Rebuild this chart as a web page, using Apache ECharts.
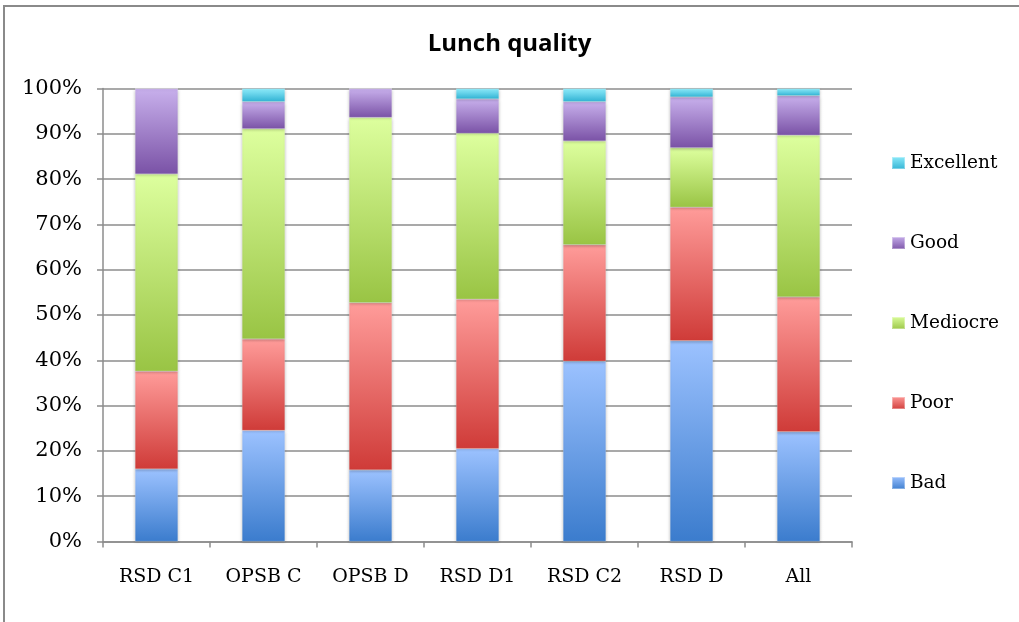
<!DOCTYPE html>
<html>
<head>
<meta charset="utf-8">
<script src="https://cdn.jsdelivr.net/npm/echarts@6/dist/echarts.min.js"></script>
<style>
html,body{margin:0;padding:0;background:#fff;}
#chart{width:1019px;height:622px;}
</style>
</head>
<body>
<div id="chart"></div>
<script>
const categories = ['RSD C1', 'OPSB C', 'OPSB D', 'RSD D1', 'RSD C2', 'RSD D', 'All'];
const bad       = [16.0, 24.5, 15.8, 20.5, 39.8, 44.3, 24.2];
const poor      = [21.6, 20.2, 36.9, 33.0, 25.7, 29.5, 29.8];
const mediocre  = [43.5, 46.4, 40.9, 36.6, 22.9, 13.1, 35.7];
const good      = [18.9, 6.0, 6.4, 7.6, 8.7, 11.2, 8.7];
const excellent = [0, 2.9, 0, 2.3, 2.9, 1.9, 1.6];
const yTicks = ['0%', '10%', '20%', '30%', '40%', '50%', '60%', '70%', '80%', '90%', '100%'];
const legendOrder = ['Excellent', 'Good', 'Mediocre', 'Poor', 'Bad'];

function grad(top, bottom) {
  return new echarts.graphic.LinearGradient(0, 0, 0, 1, [
    { offset: 0, color: top },
    { offset: 1, color: bottom }
  ]);
}
const seriesDefs = [
  { name: 'Bad', data: bad, top: '#9cc2ff', bottom: '#3b7ccd' },
  { name: 'Poor', data: poor, top: '#ff9c9a', bottom: '#cf3b38' },
  { name: 'Mediocre', data: mediocre, top: '#ddff9e', bottom: '#99c444' },
  { name: 'Good', data: good, top: '#c8b0ec', bottom: '#7a52a6' },
  { name: 'Excellent', data: excellent, top: '#90ecfb', bottom: '#30b2d3' }
];

const serif = 'DejaVu Serif';
const chart = echarts.init(document.getElementById('chart'), null, { renderer: 'canvas' });
const option = {
  backgroundColor: '#fff',
  animation: false,
  title: {
    text: 'Lunch quality',
    left: 'center',
    top: 27,
    textStyle: { fontFamily: 'Open Sans', fontWeight: 'bold', fontSize: 24, color: '#000' }
  },
  graphic: [{
    type: 'rect', silent: true, z: -1,
    shape: { x: 4, y: 6, width: 1100, height: 700 },
    style: { fill: 'none', stroke: '#8a8a8a', lineWidth: 2 }
  }],
  legend: {
    data: legendOrder,
    orient: 'vertical',
    left: 891,
    top: 152,
    padding: 0,
    itemWidth: 13,
    itemHeight: 12,
    itemGap: 58,
    icon: 'rect',
    textStyle: { fontFamily: serif, fontSize: 18.5, color: '#000', lineHeight: 22 }
  },
  grid: { left: 103, right: 167, top: 88.5, bottom: 80.5, containLabel: false },
  xAxis: {
    type: 'category',
    data: categories,
    axisLine: { lineStyle: { color: '#8c8c8c', width: 1.5 } },
    axisTick: { show: true, length: 6, alignWithLabel: false, lineStyle: { color: '#8c8c8c', width: 1.5 } },
    axisLabel: { fontFamily: serif, fontSize: 19, color: '#000', margin: 26 }
  },
  yAxis: {
    type: 'value',
    min: 0, max: 100, interval: 10,
    axisLine: { show: true, lineStyle: { color: '#8c8c8c', width: 1.5 } },
    axisTick: { show: true, length: 6, lineStyle: { color: '#8c8c8c', width: 1.5 } },
    splitLine: { show: true, lineStyle: { color: '#8c8c8c', width: 1.5 } },
    axisLabel: {
      fontFamily: serif, fontSize: 21, color: '#000', margin: 21,
      formatter: function (v) { return yTicks[Math.round(v / 10)]; }
    }
  },
  series: seriesDefs.map(function (s) {
    return {
      name: s.name,
      type: 'bar',
      stack: 'total',
      data: s.data,
      barWidth: 43,
      itemStyle: {
        color: grad(s.top, s.bottom),
        borderColor: 'rgba(255,255,255,0.35)',
        borderWidth: 0.5,
        shadowBlur: 3,
        shadowColor: 'rgba(0,0,0,0.25)',
        shadowOffsetY: 1
      }
    };
  })
};
chart.setOption(option);
</script>
</body>
</html>
